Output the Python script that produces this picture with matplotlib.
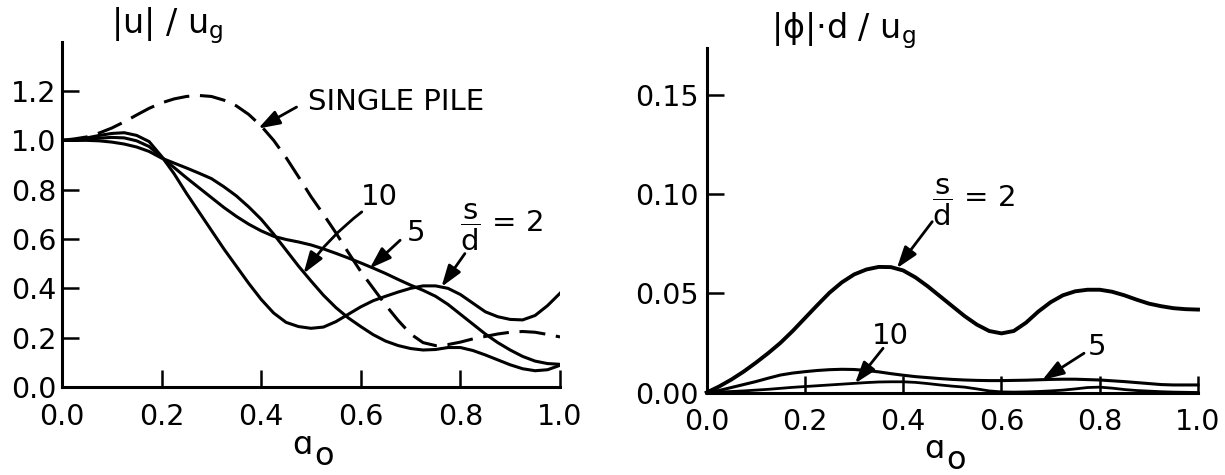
import matplotlib
matplotlib.use("Agg")
import matplotlib.pyplot as plt

a0 = [0.0, 0.025, 0.05, 0.075, 0.1, 0.125, 0.15, 0.175, 0.2, 0.225,
      0.25, 0.275, 0.3, 0.325, 0.35, 0.375, 0.4, 0.425, 0.45, 0.475,
      0.5, 0.525, 0.55, 0.575, 0.6, 0.625, 0.65, 0.675, 0.7, 0.725,
      0.75, 0.775, 0.8, 0.825, 0.85, 0.875, 0.9, 0.925, 0.95, 0.975, 1.0]

# |u|/ug
u_single = [1.000, 1.006, 1.014, 1.030, 1.050, 1.075, 1.103, 1.130, 1.152, 1.168,
            1.178, 1.182, 1.178, 1.163, 1.140, 1.105, 1.058, 1.000, 0.930, 0.852,
            0.772, 0.700, 0.625, 0.545, 0.468, 0.400, 0.332, 0.270, 0.215, 0.180,
            0.168, 0.172, 0.182, 0.195, 0.205, 0.215, 0.222, 0.225, 0.222, 0.213, 0.203]
u_s2 = [1.000, 1.002, 1.010, 1.020, 1.028, 1.031, 1.020, 0.995, 0.935, 0.865,
        0.785, 0.710, 0.635, 0.560, 0.490, 0.420, 0.355, 0.300, 0.262, 0.245,
        0.238, 0.243, 0.265, 0.295, 0.325, 0.350, 0.368, 0.385, 0.400, 0.410,
        0.410, 0.400, 0.375, 0.340, 0.305, 0.285, 0.274, 0.272, 0.290, 0.330, 0.380]
u_s5 = [1.000, 1.000, 1.004, 1.009, 1.012, 1.010, 0.998, 0.975, 0.932, 0.890,
        0.848, 0.808, 0.768, 0.728, 0.692, 0.660, 0.633, 0.611, 0.598, 0.588,
        0.576, 0.560, 0.542, 0.523, 0.503, 0.482, 0.460, 0.436, 0.413, 0.392,
        0.368, 0.335, 0.295, 0.255, 0.215, 0.180, 0.150, 0.124, 0.105, 0.095, 0.092]
u_s10 = [1.000, 1.000, 1.000, 0.998, 0.993, 0.985, 0.973, 0.955, 0.928, 0.908,
         0.888, 0.867, 0.845, 0.812, 0.775, 0.730, 0.680, 0.620, 0.555, 0.490,
         0.430, 0.372, 0.322, 0.280, 0.245, 0.212, 0.186, 0.168, 0.156, 0.150,
         0.152, 0.160, 0.160, 0.148, 0.130, 0.110, 0.090, 0.074, 0.066, 0.070, 0.088]

# |phi|.d/ug
phi_s2 = [0.0, 0.0030, 0.0065, 0.0105, 0.0150, 0.0198, 0.0250, 0.0310, 0.0375, 0.0440,
          0.0503, 0.0555, 0.0595, 0.0620, 0.0633, 0.0632, 0.0615, 0.0580, 0.0535, 0.0485,
          0.0435, 0.0385, 0.0342, 0.0310, 0.0298, 0.0310, 0.0352, 0.0408, 0.0455, 0.0490,
          0.0510, 0.0518, 0.0518, 0.0508, 0.0490, 0.0468, 0.0448, 0.0435, 0.0425, 0.0420, 0.0418]
phi_s5 = [0.0, 0.0010, 0.0025, 0.0040, 0.0055, 0.0072, 0.0088, 0.0098, 0.0105, 0.0111,
          0.0115, 0.0117, 0.0116, 0.0111, 0.0104, 0.0095, 0.0087, 0.0080, 0.0075, 0.0070,
          0.0066, 0.0063, 0.0061, 0.0060, 0.0060, 0.0061, 0.0062, 0.0064, 0.0066, 0.0067,
          0.0067, 0.0065, 0.0063, 0.0059, 0.0055, 0.0050, 0.0045, 0.0040, 0.0038, 0.0038, 0.0038]
phi_s10 = [0.0, 0.0002, 0.0005, 0.0008, 0.0012, 0.0016, 0.0021, 0.0026, 0.0030, 0.0034,
           0.0038, 0.0042, 0.0046, 0.0050, 0.0053, 0.0054, 0.0054, 0.0051, 0.0045, 0.0038,
           0.0032, 0.0027, 0.0018, 0.0008, 0.0003, 0.0002, 0.0003, 0.0005, 0.0008, 0.0012,
           0.0018, 0.0025, 0.0027, 0.0022, 0.0015, 0.0010, 0.0007, 0.0004, 0.0002, 0.0001, 0.0]

x_ticks = [0.0, 0.2, 0.4, 0.6, 0.8, 1.0]
u_ticks = [0.0, 0.2, 0.4, 0.6, 0.8, 1.0, 1.2]
phi_ticks = [0.0, 0.05, 0.10, 0.15]

plt.rcParams["font.family"] = ["DejaVu Sans"]
plt.rcParams["mathtext.fontset"] = "dejavusans"

fig = plt.figure(figsize=(12.25, 4.75), dpi=100)
ax1 = fig.add_axes([62 / 1225, 1 - 387 / 475, 498 / 1225, 345.3 / 475])
ax2 = fig.add_axes([706.7 / 1225, 1 - 392.5 / 475, 491.3 / 1225, 344.2 / 475])

lw = 2.2
ax1.plot(a0, u_single, color="k", lw=lw, dashes=(8.5, 3.5))
ax1.plot(a0, u_s2, color="k", lw=lw)
ax1.plot(a0, u_s5, color="k", lw=lw)
ax1.plot(a0, u_s10, color="k", lw=lw)

ax2.plot(a0, phi_s2, color="k", lw=2.8, clip_on=False)
ax2.plot(a0, phi_s5, color="k", lw=2.2, clip_on=False)
ax2.plot(a0, phi_s10, color="k", lw=2.0, clip_on=False)

for ax, yt, ytl, top, ypad in [
    (ax1, u_ticks, ["%.1f" % v for v in u_ticks], 1.4, 4.0),
    (ax2, phi_ticks, ["%.2f" % v for v in phi_ticks], 0.1735, 5.5),
]:
    ax.set_xlim(0, 1.0)
    ax.set_ylim(0, top)
    ax.set_xticks(x_ticks)
    ax.set_xticklabels(["%.1f" % v for v in x_ticks])
    ax.set_yticks(yt)
    ax.set_yticklabels(ytl)
    for s in ["top", "right"]:
        ax.spines[s].set_visible(False)
    for s in ["left", "bottom"]:
        ax.spines[s].set_linewidth(2.2)
    ax.tick_params(axis="both", direction="in", length=12.5, width=1.8,
                   labelsize=20.5, color="k")
    ax.tick_params(axis="x", pad=11.5)
    ax.tick_params(axis="y", pad=ypad)

arrow = dict(arrowstyle="-|>,head_length=0.65,head_width=0.22",
             mutation_scale=20, color="k", lw=2.0, shrinkA=0, shrinkB=0)

# left panel annotations
ax1.text(0.494, 1.154, "SINGLE PILE", fontsize=21, va="center", ha="left")
ax1.annotate("", xy=(0.394, 1.048), xytext=(0.471, 1.135), arrowprops=arrow)
ax1.text(0.637, 0.77, "10", fontsize=21, va="center", ha="center")
ax1.annotate("", xy=(0.485, 0.46), xytext=(0.602, 0.71),
             arrowprops=dict(arrow, connectionstyle="arc3,rad=0.08"))
ax1.text(0.71, 0.624, "5", fontsize=21, va="center", ha="center")
ax1.annotate("", xy=(0.618, 0.481), xytext=(0.679, 0.595), arrowprops=arrow)
ax1.text(0.800, 0.645, r"$\dfrac{\mathregular{s}}{\mathregular{d}}$ = 2",
         fontsize=21, va="center", ha="left")
ax1.annotate("", xy=(0.762, 0.406), xytext=(0.809, 0.541), arrowprops=arrow)

# right panel annotations
ax2.text(0.458, 0.096, r"$\dfrac{\mathregular{s}}{\mathregular{d}}$ = 2",
         fontsize=21, va="center", ha="left")
ax2.annotate("", xy=(0.387, 0.0626), xytext=(0.459, 0.0861), arrowprops=arrow)
ax2.text(0.373, 0.0285, "10", fontsize=21, va="center", ha="center")
ax2.annotate("", xy=(0.302, 0.0046), xytext=(0.359, 0.0223), arrowprops=arrow)
ax2.text(0.794, 0.0227, "5", fontsize=21, va="center", ha="center")
ax2.annotate("", xy=(0.683, 0.0063), xytext=(0.768, 0.0198), arrowprops=arrow)

# axis titles
fig.text(111 / 1225, 1 - 33 / 475, "|u| / u$_\\mathregular{g}$", fontsize=24,
         ha="left", va="baseline")
fig.text(771 / 1225, 1 - 38 / 475, "|ϕ|·d / u$_\\mathregular{g}$", fontsize=24,
         ha="left", va="baseline")

# a_o labels
fig.text(292 / 1225, 1 - 454 / 475, "ɑ", fontsize=23, ha="left", va="baseline")
fig.text(314 / 1225, 1 - 465 / 475, "o", fontsize=23, ha="left", va="baseline")
fig.text(924 / 1225, 1 - 458 / 475, "ɑ", fontsize=23, ha="left", va="baseline")
fig.text(946 / 1225, 1 - 469 / 475, "o", fontsize=23, ha="left", va="baseline")

fig.savefig("out.png", dpi=100, facecolor="white")
